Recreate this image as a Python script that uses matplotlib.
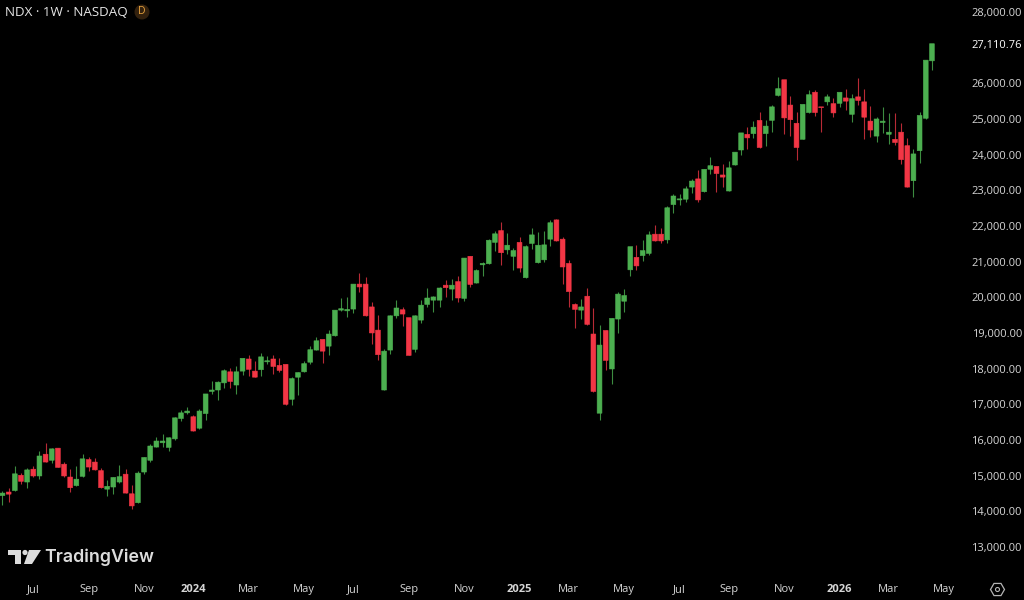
import numpy as np
import matplotlib
matplotlib.use('Agg')
import matplotlib.pyplot as plt
from matplotlib.patches import Circle, Polygon, RegularPolygon
from matplotlib.transforms import Affine2D

# weekly NDX candles
opens = [14440, 14540, 14580, 15010, 14820, 15180, 14990, 15600, 15430, 15770, 15320, 14960, 14720, 14980, 15450, 15380,
         15140, 14620, 14680, 14820, 15040, 14490, 14240, 15100, 15430, 15800, 15920, 15790, 16030, 16600, 16760, 16650,
         16330, 16740, 17360, 17400, 17600, 17910, 17540, 17930, 18270, 17930, 17970, 18190, 18270, 18090, 18120, 17140,
         17760, 17910, 18180, 18520, 18820, 18630, 18920, 19640, 19620, 19670, 20370, 20370, 19730, 19080, 17400, 18520,
         19480, 19650, 19430, 18540, 19360, 19800, 19920, 19920, 20340, 20230, 20440, 19970, 21150, 20400, 20910, 20940,
         21540, 21870, 21330, 21150, 21540, 20550, 21510, 20970, 21050, 21630, 22170, 21630, 20950, 19800, 19640, 20030,
         18970, 16750, 19070, 17990, 19390, 19890, 20770, 21120, 21170, 21230, 21770, 21770, 21610, 22600, 22730, 22750,
         23090, 23320, 22960, 23590, 23670, 23430, 22980, 23710, 24130, 24570, 24590, 24960, 24590, 24960, 25660, 26100,
         25390, 24880, 24430, 25180, 25750, 25340, 25480, 25430, 25440, 25590, 25130, 25620, 25480, 24940, 24520, 24900,
         24570, 24430, 24630, 24250, 23270, 24110, 25020, 26630]
highs = [14570, 14640, 15260, 15080, 15200, 15260, 15700, 15910, 15770, 15770, 15390, 15180, 15260, 15600, 15510, 15490,
         15220, 14880, 14970, 15310, 15190, 14740, 15140, 15510, 15880, 16090, 16160, 16080, 16650, 16830, 16930, 16700,
         16860, 17290, 17640, 17660, 17980, 18010, 18070, 18310, 18390, 18200, 18450, 18350, 18380, 18300, 18120, 17760,
         17910, 18220, 18630, 18890, 18820, 19080, 19640, 19970, 20000, 20370, 20670, 20580, 19880, 19510, 18540, 19510,
         19920, 19720, 19430, 19510, 19920, 20250, 20030, 20300, 20490, 20520, 20600, 21100, 21150, 20780, 21000, 21630,
         21870, 22120, 21810, 21370, 21680, 21470, 21930, 21820, 21860, 22170, 22200, 21700, 21050, 19830, 19940, 20270,
         19690, 19210, 19070, 19410, 20140, 20220, 21420, 21470, 21610, 21870, 22020, 21950, 22570, 22900, 22900, 23130,
         23310, 23570, 23590, 23940, 23670, 23740, 23830, 24070, 24610, 24770, 24940, 25190, 24970, 25390, 26170, 26100,
         25640, 25200, 25410, 25800, 25800, 25340, 25690, 25580, 25770, 25850, 25690, 26160, 25830, 25370, 25050, 25340,
         25170, 25170, 24880, 24460, 24150, 25190, 26650, 27110]
lows = [14180, 14270, 14570, 14770, 14660, 14950, 14910, 15380, 15360, 15230, 14950, 14530, 14710, 14960, 15130, 15150,
        14660, 14420, 14480, 14800, 14500, 14060, 14220, 15050, 15390, 15800, 15800, 15680, 16010, 16540, 16730, 16240,
        16310, 16550, 17280, 17120, 17470, 17470, 17300, 17810, 17790, 17760, 17790, 18120, 17850, 17910, 16970, 16990,
        17270, 17900, 18130, 18510, 18170, 18370, 18910, 19620, 19460, 19550, 20150, 19480, 18700, 18250, 17400, 18420,
        19430, 19190, 18370, 18460, 19290, 19740, 19600, 19740, 20010, 19920, 19870, 19900, 20300, 20390, 20600, 20940,
        21290, 20910, 21210, 20770, 20700, 20550, 21350, 20950, 20980, 21450, 21580, 20370, 19740, 19150, 19390, 19220,
        17350, 16560, 17970, 17570, 18990, 19600, 20600, 20770, 21030, 21190, 21580, 21510, 21530, 22370, 22580, 22670,
        22930, 22670, 22950, 23470, 22950, 23100, 22970, 23700, 23990, 24170, 24470, 24190, 24240, 24630, 25640, 24580,
        24520, 23850, 24430, 25160, 25080, 24640, 25400, 25060, 25330, 25250, 24920, 25380, 24450, 24490, 24360, 24600,
        24300, 24280, 23730, 23090, 22820, 23760, 24990, 26370]
closes = [14510, 14480, 15050, 14840, 15160, 14990, 15550, 15380, 15750, 15230, 14990, 14660, 14900, 15470, 15240, 15160,
          14660, 14700, 14950, 14970, 14510, 14150, 15070, 15510, 15830, 15970, 15970, 16060, 16620, 16760, 16810, 16250,
          16810, 17290, 17400, 17620, 17940, 17640, 17910, 18290, 17980, 17760, 18330, 18220, 18060, 17950, 17000, 17720,
          17890, 18140, 18530, 18780, 18490, 18970, 19640, 19680, 19660, 20370, 20290, 19480, 19000, 18390, 18490, 19480,
          19700, 19530, 18370, 19480, 19780, 19980, 20010, 20260, 20270, 20340, 19980, 21100, 20360, 20750, 20950, 21600,
          21780, 21250, 21460, 21310, 20820, 21420, 21750, 21460, 21470, 22090, 21580, 20850, 20160, 19660, 19730, 19240,
          17360, 18660, 18230, 19410, 20090, 20050, 21420, 20880, 21310, 21750, 21580, 21580, 22510, 22840, 22760, 23040,
          23260, 22730, 23590, 23690, 23470, 23370, 23630, 24070, 24610, 24470, 24770, 24200, 24800, 25340, 25850, 25030,
          24980, 24200, 25410, 25680, 25180, 25320, 25620, 25170, 25750, 25500, 25570, 25520, 25050, 24690, 25000, 24940,
          24630, 24340, 23860, 23090, 24020, 25100, 26650, 27110]

price_ticks = [13000, 14000, 15000, 16000, 17000, 18000, 19000, 20000, 21000, 22000, 23000, 24000, 25000, 26000,
               27110.76, 28000]
month_pos = [5, 14, 23, 31, 40, 49, 57, 66, 75, 84, 92, 101, 110, 118, 127, 136, 144, 153]
month_labels = ['Jul', 'Sep', 'Nov', '2024', 'Mar', 'May', 'Jul', 'Sep', 'Nov', '2025', 'Mar', 'May', 'Jul', 'Sep',
                'Nov', '2026', 'Mar', 'May']

GREEN = '#4caf50'
RED = '#f23645'
TEXT = '#d6d6d6'

plt.rcParams['font.family'] = ['Open Sans', 'DejaVu Sans']

fig = plt.figure(figsize=(10.24, 6), dpi=100, facecolor='black')
ax = fig.add_axes([0, 0, 1, 1], facecolor='black')

o = np.array(opens)
h = np.array(highs)
l = np.array(lows)
c = np.array(closes)
x = np.arange(len(o))
up = c >= o
colors = np.where(up, GREEN, RED)
wick_colors = np.where(up, '#3c8c40', '#b82a36')

ax.vlines(x, l, h, colors=wick_colors, linewidth=0.8, zorder=2)
bars = ax.bar(x, np.abs(c - o), bottom=np.minimum(o, c), width=0.78, color=colors, edgecolor=colors,
              linewidth=0.4, zorder=3)
for b in bars:
    b.set_snap(False)

ax.set_xlim(-0.406, 165.96)
ax.set_ylim(11512, 28336)
for s in ax.spines.values():
    s.set_visible(False)

ax.yaxis.tick_right()
ax.set_yticks(price_ticks)
ax.set_yticklabels(['{:,.2f}'.format(p) for p in price_ticks], ha='right')
ax.tick_params(axis='y', length=0, pad=-1.5, labelsize=8, labelcolor=TEXT)
ax.set_xticks(month_pos)
ax.set_xticklabels(month_labels)
ax.tick_params(axis='x', length=0, pad=-11.2, labelsize=8, labelcolor=TEXT)
for lab in ax.get_xticklabels():
    if lab.get_text().startswith('20'):
        lab.set_fontweight('bold')
for lab in ax.get_yticklabels():
    if lab.get_text().startswith('27,'):
        lab.set_color('white')

# header, logo and settings icon sit in pixel coordinates
px = Affine2D().scale(1, -1).translate(0, 600)
fig.text(5 / 1024, 1 - 13 / 600, 'NDX · 1W · NASDAQ', color='#e6e6e6', fontsize=9.6, va='center', ha='left')
fig.add_artist(Circle((142, 12), 7.5, transform=px, facecolor='#33210e', edgecolor='none'))
fig.text(142 / 1024, 1 - 12 / 600, 'D', color='#e8a33d', fontsize=7.5, va='center', ha='center')

logo = '#dcdcdc'
fig.add_artist(Polygon([(8, 550), (21, 550), (21, 564), (15, 564), (15, 555), (8, 555)], transform=px,
                       facecolor=logo, edgecolor='none'))
fig.add_artist(Circle((25, 552.5), 2.6, transform=px, facecolor=logo, edgecolor='none'))
fig.add_artist(Polygon([(29, 550), (41, 550), (32, 564), (24, 564)], transform=px, facecolor=logo, edgecolor='none'))
fig.text(44 / 1024, 1 - 557 / 600, 'TradingView', color=logo, fontsize=12.8, fontweight='semibold', va='center',
         ha='left', family=['Inter', 'DejaVu Sans'])

fig.add_artist(RegularPolygon((997.5, 589.5), 6, radius=7, orientation=np.pi / 2, transform=px, facecolor='none',
                              edgecolor='#b4b4b4', linewidth=0.9))
fig.add_artist(Circle((997.5, 589.5), 2, transform=px, facecolor='none', edgecolor='#b4b4b4', linewidth=0.8))

fig.savefig('out.png', facecolor='black')
